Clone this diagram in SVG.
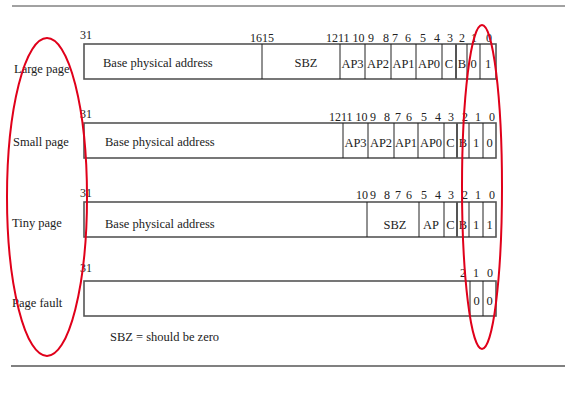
<svg xmlns="http://www.w3.org/2000/svg" width="565" height="407" viewBox="0 0 565 407">
<style>
text{font-family:"Liberation Serif","Times New Roman",serif;fill:#222;}
.lbl{font-size:12.5px;}
.bit{font-size:12px;}
.cell{font-size:12.5px;text-anchor:middle;}
.box{fill:#fff;stroke:#555;stroke-width:1.6;}
.div{stroke:#222;stroke-width:1;}
.ell{fill:none;stroke:#e0001a;stroke-width:2;}
</style>
<rect width="565" height="407" fill="#fff"/>
<line x1="12" y1="6" x2="565" y2="6" stroke="#444" stroke-width="1"/>
<line x1="11" y1="366" x2="565" y2="366" stroke="#808080" stroke-width="2"/>

<g id="large">
<text class="lbl" x="14" y="73">Large page</text>
<rect class="box" x="84" y="44" width="412" height="35"/>
<g class="div">
<line x1="262" y1="44" x2="262" y2="79"/><line x1="340" y1="44" x2="340" y2="79"/>
<line x1="365" y1="44" x2="365" y2="79"/><line x1="391" y1="44" x2="391" y2="79"/>
<line x1="416" y1="44" x2="416" y2="79"/><line x1="442" y1="44" x2="442" y2="79"/>
<line x1="456" y1="44" x2="456" y2="79" stroke-width="2" stroke="#555"/><line x1="467" y1="44" x2="467" y2="79"/>
<line x1="480" y1="44" x2="480" y2="79"/>
</g>
<text class="bit" x="80" y="39">31</text>
<text class="bit" x="250" y="42">1615</text>
<text class="bit" x="326" y="42">1211 10</text>
<text class="bit" x="371" y="42" text-anchor="middle">9</text>
<text class="bit" x="386" y="42" text-anchor="middle">8</text>
<text class="bit" x="395" y="42" text-anchor="middle">7</text>
<text class="bit" x="408" y="42" text-anchor="middle">6</text>
<text class="bit" x="423" y="42" text-anchor="middle">5</text>
<text class="bit" x="437" y="42" text-anchor="middle">4</text>
<text class="bit" x="450" y="42" text-anchor="middle">3</text>
<text class="bit" x="462" y="42" text-anchor="middle">2</text>
<text class="bit" x="474" y="42" text-anchor="middle">1</text>
<text class="bit" x="489" y="42" text-anchor="middle">0</text>
<text class="lbl" x="103" y="67">Base physical address</text>
<text class="cell" x="306" y="67">SBZ</text>
<text class="cell" x="352.5" y="68">AP3</text>
<text class="cell" x="378" y="68">AP2</text>
<text class="cell" x="403.5" y="68">AP1</text>
<text class="cell" x="429" y="68">AP0</text>
<text class="cell" x="449" y="68">C</text>
<text class="cell" x="462" y="68">B</text>
<text class="cell" x="473.5" y="68">0</text>
<text class="cell" x="488" y="68">1</text>
</g>

<g id="small">
<text class="lbl" x="13" y="146">Small page</text>
<rect class="box" x="84" y="123" width="412" height="35"/>
<g class="div">
<line x1="343" y1="123" x2="343" y2="158"/><line x1="368" y1="123" x2="368" y2="158"/>
<line x1="394" y1="123" x2="394" y2="158"/><line x1="418" y1="123" x2="418" y2="158"/>
<line x1="444" y1="123" x2="444" y2="158"/><line x1="457" y1="123" x2="457" y2="158" stroke-width="2" stroke="#555"/>
<line x1="469" y1="123" x2="469" y2="158"/><line x1="483" y1="123" x2="483" y2="158"/>
</g>
<text class="bit" x="80" y="118">31</text>
<text class="bit" x="329" y="121">1211 10</text>
<text class="bit" x="373" y="121" text-anchor="middle">9</text>
<text class="bit" x="387" y="121" text-anchor="middle">8</text>
<text class="bit" x="398" y="121" text-anchor="middle">7</text>
<text class="bit" x="409" y="121" text-anchor="middle">6</text>
<text class="bit" x="424" y="121" text-anchor="middle">5</text>
<text class="bit" x="438" y="121" text-anchor="middle">4</text>
<text class="bit" x="451" y="121" text-anchor="middle">3</text>
<text class="bit" x="465" y="121" text-anchor="middle">2</text>
<text class="bit" x="478" y="121" text-anchor="middle">1</text>
<text class="bit" x="492" y="121" text-anchor="middle">0</text>
<text class="lbl" x="105" y="146">Base physical address</text>
<text class="cell" x="355.5" y="147">AP3</text>
<text class="cell" x="381" y="147">AP2</text>
<text class="cell" x="406" y="147">AP1</text>
<text class="cell" x="431" y="147">AP0</text>
<text class="cell" x="450.5" y="147">C</text>
<text class="cell" x="463" y="147">B</text>
<text class="cell" x="476" y="147">1</text>
<text class="cell" x="489.5" y="147">0</text>
</g>

<g id="tiny">
<text class="lbl" x="12" y="227">Tiny page</text>
<rect class="box" x="84" y="202" width="412" height="35"/>
<g class="div">
<line x1="367" y1="202" x2="367" y2="237"/><line x1="419" y1="202" x2="419" y2="237"/>
<line x1="444" y1="202" x2="444" y2="237"/><line x1="457" y1="202" x2="457" y2="237" stroke-width="2" stroke="#555"/>
<line x1="469" y1="202" x2="469" y2="237"/><line x1="483" y1="202" x2="483" y2="237"/>
</g>
<text class="bit" x="80" y="197">31</text>
<text class="bit" x="356" y="199">10</text>
<text class="bit" x="373" y="199" text-anchor="middle">9</text>
<text class="bit" x="387" y="199" text-anchor="middle">8</text>
<text class="bit" x="398" y="199" text-anchor="middle">7</text>
<text class="bit" x="409" y="199" text-anchor="middle">6</text>
<text class="bit" x="424" y="199" text-anchor="middle">5</text>
<text class="bit" x="438" y="199" text-anchor="middle">4</text>
<text class="bit" x="451" y="199" text-anchor="middle">3</text>
<text class="bit" x="465" y="199" text-anchor="middle">2</text>
<text class="bit" x="478" y="199" text-anchor="middle">1</text>
<text class="bit" x="492" y="199" text-anchor="middle">0</text>
<text class="lbl" x="105" y="228">Base physical address</text>
<text class="cell" x="395" y="229">SBZ</text>
<text class="cell" x="431" y="229">AP</text>
<text class="cell" x="450.5" y="229">C</text>
<text class="cell" x="463" y="229">B</text>
<text class="cell" x="476" y="229">1</text>
<text class="cell" x="489.5" y="229">1</text>
</g>

<g id="fault">
<text class="lbl" x="12" y="307">Page fault</text>
<rect class="box" x="84" y="281" width="412" height="35"/>
<g class="div">
<line x1="470" y1="281" x2="470" y2="316"/><line x1="483" y1="281" x2="483" y2="316"/>
</g>
<text class="bit" x="80" y="272">31</text>
<text class="bit" x="463" y="277" text-anchor="middle">2</text>
<text class="bit" x="476" y="277" text-anchor="middle">1</text>
<text class="bit" x="490" y="277" text-anchor="middle">0</text>
<text class="cell" x="476.5" y="305">0</text>
<text class="cell" x="489.5" y="305">0</text>
<text class="lbl" x="110" y="341">SBZ = should be zero</text>
</g>

<g id="highlights">
<ellipse class="ell" cx="47" cy="197" rx="40" ry="159"/>
<ellipse class="ell" cx="482" cy="187" rx="20" ry="162"/>
</g>
</svg>
